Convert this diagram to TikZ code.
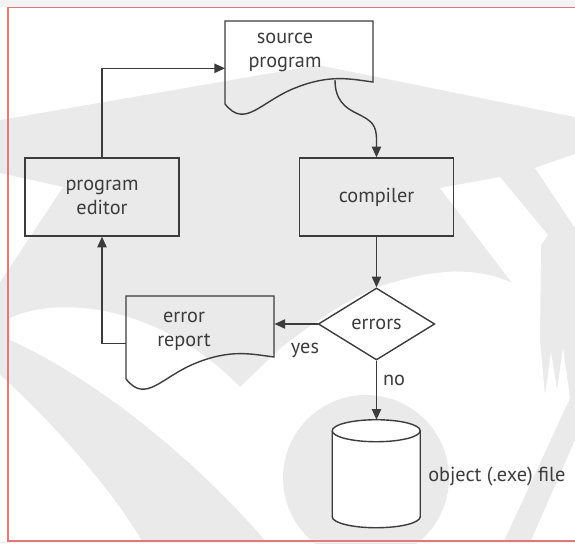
\documentclass[tikz,border=0pt]{standalone}
\usepackage{fontspec}
\setmainfont{PT Sans}
\usetikzlibrary{shapes.geometric,arrows.meta,calc}
\definecolor{ink}{HTML}{3C3C3C}
\definecolor{wm}{HTML}{EAEAEA}
\definecolor{framered}{HTML}{E07A7A}
\definecolor{outside}{HTML}{F3F3F3}
\newcommand\docoutline[1]{%
  \draw[inkline, shift={(#1.north west)}] (0,0) -- (148,0) -- (148,61)
    .. controls (125,58) and (105,53) .. (70,67)
    .. controls (35,81) and (20,108) .. (0,83) -- cycle;}
\begin{document}
\begin{tikzpicture}[x=0.75pt,y=-0.75pt,
  inkline/.style={draw=ink, line width=1.05pt},
  arr/.style={inkline, -{Triangle[length=8pt,width=7pt]}},
  txt/.style={text=ink, font=\fontsize{15.2}{18}\selectfont, align=center, inner sep=0pt},
  procbox/.style={txt, inkline, rectangle, minimum width=115.5pt, minimum height=58.5pt},
  docbox/.style={rectangle, minimum width=111pt, minimum height=45.75pt, inner sep=0pt, anchor=north west},
  decision/.style={txt, inkline, diamond, minimum width=87.4pt, minimum height=54pt},
  ]
\useasboundingbox (0,0) rectangle (575,543);
% ---- watermark background ----
\fill[wm] (0,0) rectangle (575,543);
\fill[white] (0,0) -- (575,0) -- (575,117) -- (318,65) -- (0,120) -- cycle;
\fill[white] (0,173) -- (63,187) -- (0,282) -- cycle;
\fill[white] (575,154) -- (535,168) -- (575,228) -- cycle;
\fill[white] (0,375) .. controls (40,410) and (110,485) .. (143,543) -- (0,543) -- cycle;
\fill[white] (530,543) -- (575,440) -- (575,543) -- cycle;
\fill[white] (10,318) .. controls (60,295) and (160,305) .. (240,387)
  -- (282,347) .. controls (320,318) and (360,290) .. (395,282)
  .. controls (440,268) and (480,268) .. (512,283)
  -- (440,188) -- (500,177) -- (548,235) -- (541,245) -- (540,340)
  -- (545,395) -- (551,352) -- (557,390) -- (563,348) -- (570,398)
  -- (503,543) -- (267,543)
  .. controls (215,480) and (110,385) .. (10,340) -- cycle;
\fill[wm] (366,478) circle[radius=62.25pt];
\fill[outside] (0,0) rectangle (575,7);
\fill[outside] (0,541) rectangle (575,543);
\draw[framered, line width=1.1pt] (580,7.5) -- (8,7.5) -- (8,541) -- (580,541);
% ---- nodes ----
\node[procbox] (ed) at (102,197) {program\\editor};
\node[procbox] (comp) at (376.5,197) {compiler};
\node[docbox] (src) at (225,21) {};
\node[txt] (srct) at (285,52) {source\\program};
\node[docbox] (err) at (126,296) {};
\node[txt] (errt) at (184,331) {error\\report};
\node[decision] (dia) at (376.5,324) {errors};
\node[rectangle, minimum width=66pt, minimum height=81pt, inner sep=0pt] (cyl) at (376.5,474) {};
\docoutline{src}
\docoutline{err}
\path[fill=white, inkline, shift={(cyl.north west)}] (0,11) -- (0,97)
  arc[start angle=180, end angle=360, x radius=33pt, y radius=8.25pt] -- (88,11)
  arc[start angle=0, end angle=180, x radius=33pt, y radius=8.25pt] -- cycle;
\draw[inkline, shift={(cyl.north west)}] (0,11) arc[start angle=180, end angle=360, x radius=33pt, y radius=8.25pt];
% ---- labels ----
\node[txt] (yes) at (305,350) {yes};
\node[txt] (no) at (394,380) {no};
\node[txt, anchor=west] (objl) at (428,477) {object (.exe) file};
% ---- connectors ----
\coordinate (wv) at ($(src.north west)+(110,59)$);
\draw[arr] (ed.north) |- ([yshift=-12.4pt]src.west);
\draw[arr] (wv) .. controls ($(wv)+(0,20)$) and ($(wv)+(10,28)$) .. ($(wv)+(23,34)$)
  .. controls ($(wv)+(37,41)$) and ($(wv)+(41.5,45)$) .. ($(wv)+(41.5,60)$) -- (comp.north);
\draw[arr] (comp.south) -- (dia.north);
\draw[arr] (dia.west) -- (dia.west -| err.east);
\draw[arr] ([yshift=-12.4pt]err.west) -| (ed.south);
\draw[arr] (dia.south) -- (cyl.north);
\end{tikzpicture}
\end{document}
